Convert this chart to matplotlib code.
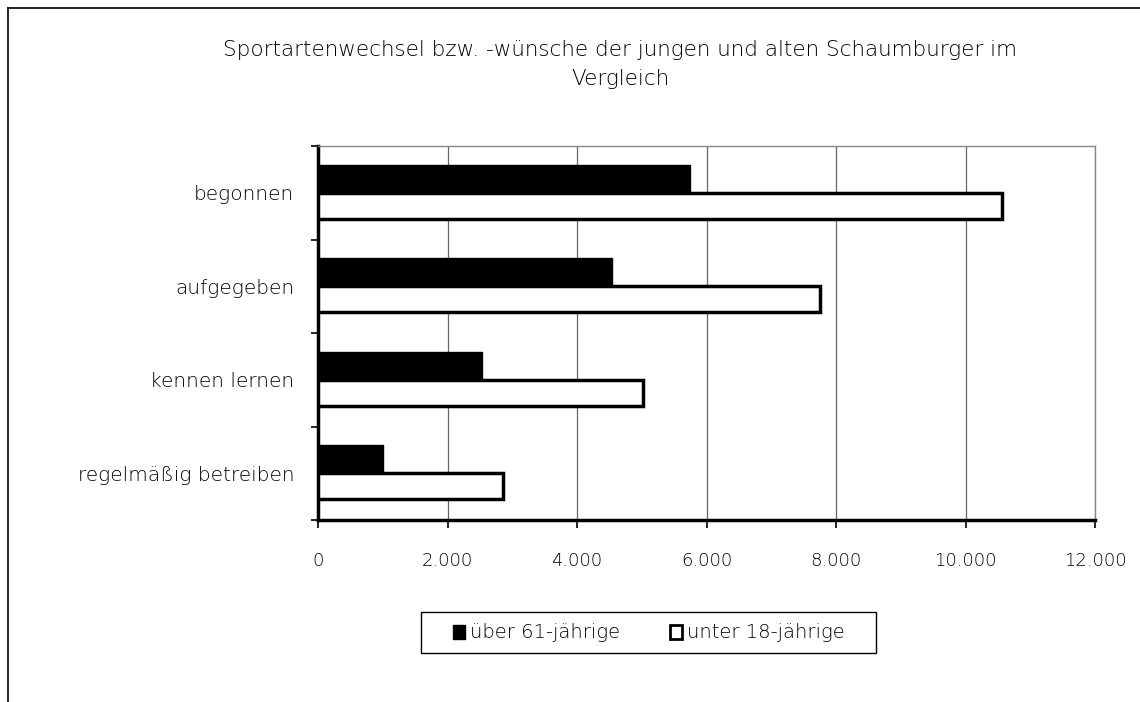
import matplotlib
matplotlib.use("Agg")
import matplotlib.pyplot as plt
import numpy as np
from matplotlib.lines import Line2D
from matplotlib.patches import Patch, Rectangle

categories = ["begonnen", "aufgegeben", "kennen lernen", "regelmäßig betreiben"]
ueber61 = [5750, 4540, 2540, 1010]
unter18 = [10570, 7750, 5020, 2860]
xticks = [0, 2000, 4000, 6000, 8000, 10000, 12000]
xticklabels = ["0", "2.000", "4.000", "6.000", "8.000", "10.000", "12.000"]
title_lines = ["Sportartenwechsel bzw. -wünsche der jungen und alten Schaumburger im", "Vergleich"]

plt.rcParams['font.family'] = ['DejaVu Sans']
plt.rcParams['font.weight'] = 'light'
TXT = 'black'

W, H = 1140, 702
fig = plt.figure(figsize=(W/100, H/100), dpi=100)
ax = fig.add_axes([318/W, 1-520/H, (1095-318)/W, (520-146)/H])

n = len(categories)
pos = np.arange(n)[::-1].astype(float)  # begonnen at top
h = 0.30
ax.barh(pos + h/2, ueber61, height=h, color="black", edgecolor="black", linewidth=1, zorder=3)
ax.barh(pos - h/2 + 0.01, unter18, height=h - 0.02, color="white", edgecolor="black", linewidth=2.5, zorder=3)

ax.set_xlim(0, 12000)
ax.set_ylim(-0.5, n - 0.5)
ax.set_xticks(xticks)
ax.set_xticklabels(xticklabels, fontsize=13, color=TXT)
ax.set_yticks(pos)
ax.set_yticklabels(categories, fontsize=14.5, color=TXT)
ax.tick_params(axis='y', length=0, pad=17)
ax.set_yticks(np.arange(-0.5, n, 1.0), minor=True)
ax.tick_params(axis='y', which='minor', length=5, width=1.2, color='black', direction='out')
ax.tick_params(axis='x', length=6, width=1.2, direction='out', pad=17)

ax.grid(axis='x', color='#666666', linewidth=0.9, zorder=0)
for s in ['top', 'right']:
    ax.spines[s].set_color('#888888')
    ax.spines[s].set_linewidth(1)
for s in ['left', 'bottom']:
    ax.spines[s].set_color('black')
    ax.spines[s].set_linewidth(2.5)
ax.set_axisbelow(True)

fig.text(620/W, 1-50/H, title_lines[0], ha='center', va='center', fontsize=15.5, color=TXT)
fig.text(620/W, 1-79/H, title_lines[1], ha='center', va='center', fontsize=15.5, color=TXT)

# outer frame (top and left)
fig.add_artist(Line2D([8/W, 1.0], [1-8/H, 1-8/H], color='black', linewidth=1.2, transform=fig.transFigure))
fig.add_artist(Line2D([8/W, 8/W], [1-8/H, 0.0], color='black', linewidth=1.2, transform=fig.transFigure))

# legend box
fig.add_artist(Rectangle((421/W, 1-653/H), (876-421)/W, (653-612)/H, transform=fig.transFigure,
                         facecolor='white', edgecolor='black', linewidth=1))
handles = [Patch(facecolor='black', edgecolor='black', label='über 61-jährige'),
           Patch(facecolor='white', edgecolor='black', linewidth=2, label='unter 18-jährige')]
leg = fig.legend(handles=handles, loc='center', bbox_to_anchor=(649/W, 1-633/H), ncol=2,
                 fontsize=14, frameon=False,
                 handlelength=0.6, handleheight=0.7, handletextpad=0.25, columnspacing=2.6,
                 borderpad=0.0, borderaxespad=0)
for t in leg.get_texts():
    t.set_color(TXT)

fig.savefig("out.png", dpi=100, facecolor='white')
